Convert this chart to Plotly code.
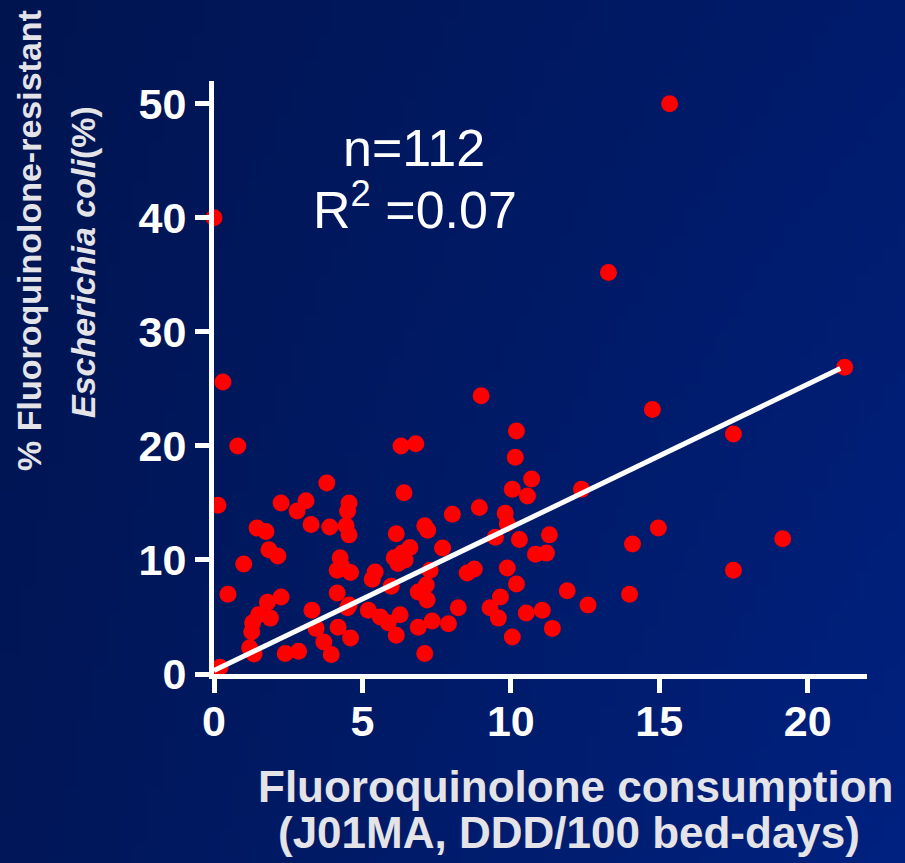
import base64
import struct
import zlib

import numpy as np
import plotly.graph_objects as go

# Fluoroquinolone consumption (DDD/100 bed-days) per hospital
consumption = [
    15.35, 13.29, 0.0, 21.25, 0.3, 9.0, 14.77, 17.5, 0.8, 6.3,
    6.8, 10.19, 10.15, 3.8, 6.4, 0.13, 2.26, 3.1, 2.8, 4.55,
    4.5, 3.27, 3.9, 1.45, 1.75, 4.45, 4.55, 6.14, 1.85, 2.15,
    1.0, 4.25, 4.15, 4.6, 5.43, 5.33, 5.97, 6.07, 6.34, 6.6,
    0.47, 2.26, 1.8, 4.15, 4.55, 4.5, 3.3, 1.5, 1.9, 1.3,
    1.27, 5.2, 5.6, 6.27, 5.87, 6.14, 3.44, 4.18, 3.7, 4.6,
    3.95, 1.2, 1.35, 2.4, 2.85, 0.2, 8.03, 8.94, 9.81, 9.88,
    7.1, 7.2, 7.7, 9.48, 10.29, 11.3, 10.83, 11.2, 6.44, 7.28,
    8.53, 8.77, 9.88, 10.19, 7.15, 6.88, 7.18, 11.9, 12.6, 9.65,
    9.3, 9.58, 8.23, 10.52, 11.06, 11.4, 10.05, 7.9, 7.35, 6.88,
    7.1, 10.7, 10.05, 10.56, 12.38, 14.97, 14.1, 19.16, 17.5, 14.0,
    6.2, 4.3,
]

# Share of fluoroquinolone-resistant E. coli isolates (%)
resistance = [
    50.0, 35.2, 40.0, 26.9, 25.6, 24.4, 23.2, 21.05, 20.0, 20.0,
    20.2, 21.3, 19.0, 16.75, 15.9, 14.8, 15.0, 15.2, 14.3, 15.0,
    14.3, 13.1, 12.9, 12.8, 12.5, 13.0, 12.2, 12.3, 10.9, 10.35,
    9.65, 10.2, 9.1, 8.9, 8.95, 8.3, 7.7, 10.2, 10.6, 11.1,
    7.0, 6.75, 6.3, 7.1, 6.05, 5.8, 5.6, 5.2, 4.9, 4.5,
    3.7, 5.6, 5.0, 5.2, 4.5, 3.4, 4.0, 4.1, 2.8, 3.15,
    1.7, 2.3, 1.75, 1.8, 2.0, 0.6, 14.0, 14.6, 14.1, 13.2,
    13.0, 12.6, 11.05, 12.0, 11.8, 12.2, 10.5, 10.6, 10.0, 9.1,
    8.85, 9.2, 9.3, 7.9, 7.8, 7.2, 6.5, 7.3, 6.05, 6.75,
    5.8, 4.9, 5.8, 5.35, 5.6, 4.0, 3.25, 4.4, 4.65, 4.1,
    1.8, 17.1, 16.2, 15.6, 16.2, 12.8, 11.4, 11.85, 9.1, 7.0,
    9.7, 9.5,
]

# Linear trend line
trend_x = [0.0, 21.1]
trend_intercept = 0.3
trend_slope = 1.255
trend_y = [trend_intercept + trend_slope * v for v in trend_x]

x_ticks = [0, 5, 10, 15, 20]
y_ticks = [0, 10, 20, 30, 40, 50]

W, H = 905, 863
ML, MR, MT, MB = 214, 38, 81, 189
PW, PH = W - ML - MR, H - MT - MB


def gradient_png(w, h, tl, tr, bl, br):
    """Small bilinear gradient written as a PNG data URI."""
    u = np.linspace(0, 1, w)[None, :, None]
    v = np.linspace(0, 1, h)[:, None, None]
    tl, tr, bl, br = (np.array(c, float) for c in (tl, tr, bl, br))
    img = (1 - v) * ((1 - u) * tl + u * tr) + v * ((1 - u) * bl + u * br)
    img = np.clip(np.round(img), 0, 255).astype(np.uint8)
    raw = b"".join(b"\x00" + img[r].tobytes() for r in range(h))

    def chunk(tag, data):
        c = struct.pack(">I", len(data)) + tag + data
        return c + struct.pack(">I", zlib.crc32(tag + data) & 0xFFFFFFFF)

    png = b"\x89PNG\r\n\x1a\n"
    png += chunk(b"IHDR", struct.pack(">IIBBBBB", w, h, 8, 2, 0, 0, 0))
    png += chunk(b"IDAT", zlib.compress(raw, 9))
    png += chunk(b"IEND", b"")
    return "data:image/png;base64," + base64.b64encode(png).decode()


bg = gradient_png(64, 64, (0, 20, 80), (0, 27, 108), (0, 22, 88), (0, 33, 128))

FONT = "Liberation Sans, Arial, sans-serif"
TITLE_COLOR = "#E4E4E8"

fig = go.Figure()
fig.add_trace(go.Scatter(
    x=consumption, y=resistance, mode="markers",
    marker=dict(color="#FF0000", size=17, line=dict(width=0)),
    cliponaxis=False, showlegend=False, hoverinfo="x+y",
))
fig.add_trace(go.Scatter(
    x=trend_x, y=trend_y, mode="lines",
    line=dict(color="white", width=5),
    cliponaxis=False, showlegend=False, hoverinfo="skip",
))


def px_x(p):
    return (p - ML) / PW


def px_y(p):
    return (H - MB - p) / PH


annotations = [
    dict(text="n=112", x=px_x(414), y=px_y(148), xanchor="center", yanchor="middle",
         font=dict(family=FONT, size=52, color="white")),
    dict(text="R<sup>2</sup> =0.07", x=px_x(415), y=px_y(241), xanchor="center", yanchor="bottom",
         font=dict(family=FONT, size=52, color="white")),
    dict(text="Fluoroquinolone consumption", x=px_x(575), y=px_y(786),
         xanchor="center", yanchor="middle",
         font=dict(family=FONT, size=44, color=TITLE_COLOR, weight="bold")),
    dict(text="(J01MA, DDD/100 bed-days)", x=px_x(569), y=px_y(832),
         xanchor="center", yanchor="middle",
         font=dict(family=FONT, size=44, color=TITLE_COLOR, weight="bold")),
    dict(text="% Fluoroquinolone-resistant", x=px_x(29), y=px_y(240), textangle=-90,
         xanchor="center", yanchor="middle",
         font=dict(family=FONT, size=34, color=TITLE_COLOR, weight="bold")),
    dict(text="<i>Escherichia coli</i>(%)", x=px_x(83), y=px_y(262), textangle=-90,
         xanchor="center", yanchor="middle",
         font=dict(family=FONT, size=34, color=TITLE_COLOR, weight="bold")),
]
for a in annotations:
    a.update(xref="paper", yref="paper", showarrow=False)

axis_common = dict(
    showgrid=False, zeroline=False, showline=True, linecolor="white", linewidth=5,
    ticks="outside", ticklen=14, tickwidth=5, tickcolor="white",
    tickfont=dict(family=FONT, size=43, color="white", weight="bold"),
    layer="above traces", fixedrange=True,
)

fig.update_layout(
    width=W, height=H,
    margin=dict(l=ML, r=MR, t=MT, b=MB, pad=0),
    paper_bgcolor="#001A60", plot_bgcolor="rgba(0,0,0,0)",
    xaxis=dict(range=[0, 22], tickvals=x_ticks, ticklabelstandoff=-9, **axis_common),
    yaxis=dict(range=[0, 52], tickvals=y_ticks, **axis_common),
    annotations=annotations,
    images=[dict(source=bg, xref="paper", yref="paper",
                 x=-ML / PW, y=1 + MT / PH, sizex=W / PW, sizey=H / PH,
                 xanchor="left", yanchor="top", sizing="stretch", layer="below")],
    showlegend=False,
)

fig.write_html("out.html")
